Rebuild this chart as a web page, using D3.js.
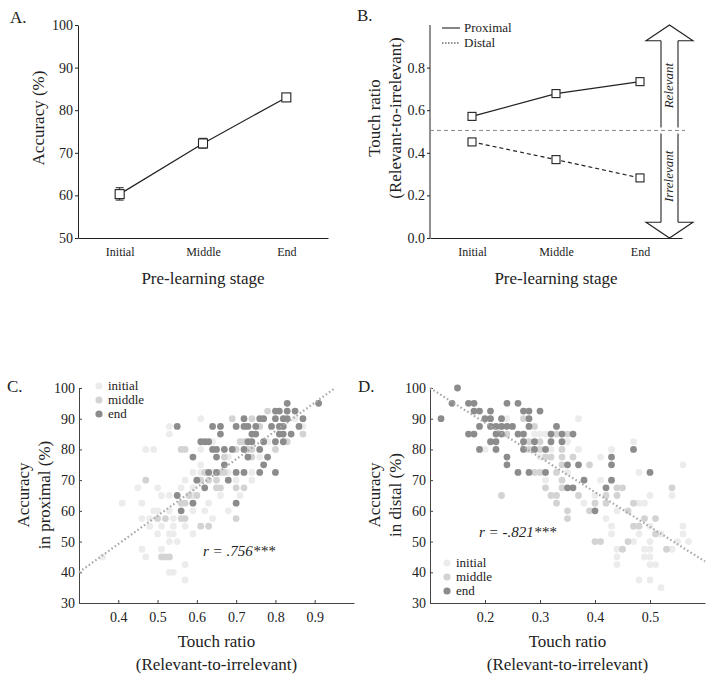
<!DOCTYPE html>
<html><head><meta charset="utf-8">
<script src="https://cdn.jsdelivr.net/npm/d3@7"></script>
<style>
body{margin:0;background:#fff}
svg{display:block}
text{font-family:'Liberation Serif','DejaVu Serif',serif;fill:#222}
</style>
</head><body>
<svg id="c" width="714" height="684"></svg>
<script>
// ---------- DATA ----------
const stages = ["Initial", "Middle", "End"];
const accuracyMean = [60.3, 72.2, 83.0];
const accuracyLow = [58.9, 71.1, 82.7];
const accuracyHigh = [61.8, 73.4, 83.3];
const accuracyTicks = [50, 60, 70, 80, 90, 100];

const proximalRatio = [0.571, 0.678, 0.734];
const distalRatio = [0.451, 0.368, 0.282];
const chanceRatio = 0.505;
const ratioTicks = [0.0, 0.2, 0.4, 0.6, 0.8];
const legendB = ["Proximal", "Distal"];

const scatterYTicks = [30, 40, 50, 60, 70, 80, 90, 100];
const proxXTicks = [0.4, 0.5, 0.6, 0.7, 0.8, 0.9];
const distXTicks = [0.2, 0.3, 0.4, 0.5];
const groupNames = ["initial", "middle", "end"];

const proxInitial = [[0.61,90],[0.85,90],[0.53,87.5],[0.87,87.5],[0.53,85],[0.64,82.5],[0.78,82.5],[0.47,80],[0.49,80],[0.61,80],[0.68,77.5],[0.76,77.5],[0.61,75],[0.59,72.5],[0.61,72.5],[0.64,72.5],[0.68,72.5],[0.74,72.5],[0.57,70],[0.70,70],[0.74,70],[0.45,67.5],[0.50,67.5],[0.56,67.5],[0.59,67.5],[0.51,65],[0.53,65],[0.59,65],[0.66,65],[0.71,65],[0.41,62.5],[0.46,62.5],[0.63,62.5],[0.49,60],[0.50,60],[0.53,60],[0.59,60],[0.62,60],[0.68,60],[0.46,57.5],[0.48,57.5],[0.54,57.5],[0.64,57.5],[0.48,55],[0.51,55],[0.54,55],[0.57,55],[0.50,52.5],[0.53,52.5],[0.54,52.5],[0.59,52.5],[0.53,50],[0.55,50],[0.46,47.5],[0.51,47.5],[0.47,45],[0.36,45],[0.57,42.5],[0.53,40],[0.54,40],[0.57,37.5]];
const proxMiddle = [[0.78,92.5],[0.69,90],[0.74,90],[0.76,87.5],[0.87,85],[0.71,82.5],[0.72,82.5],[0.83,82.5],[0.56,80],[0.57,80],[0.70,80],[0.73,80],[0.74,80],[0.80,80],[0.67,77.5],[0.74,77.5],[0.62,72.5],[0.66,72.5],[0.67,72.5],[0.47,70],[0.61,70],[0.63,70],[0.65,70],[0.65,67.5],[0.66,67.5],[0.70,67.5],[0.72,67.5],[0.58,65],[0.60,65],[0.56,62.5],[0.57,62.5],[0.50,57.5],[0.52,57.5],[0.56,57.5],[0.57,57.5],[0.70,57.5],[0.61,55],[0.63,55],[0.51,45],[0.52,45],[0.53,45]];
const proxEnd = [[0.83,95],[0.91,95],[0.80,92.5],[0.81,92.5],[0.83,92.5],[0.85,92.5],[0.72,90],[0.76,90],[0.77,90],[0.80,90],[0.82,90],[0.83,90],[0.87,90],[0.55,87.5],[0.64,87.5],[0.66,87.5],[0.70,87.5],[0.72,87.5],[0.73,87.5],[0.75,87.5],[0.79,87.5],[0.81,87.5],[0.82,87.5],[0.86,87.5],[0.66,85],[0.74,85],[0.75,85],[0.81,85],[0.82,85],[0.84,85],[0.61,82.5],[0.62,82.5],[0.63,82.5],[0.73,82.5],[0.74,82.5],[0.77,82.5],[0.80,82.5],[0.82,82.5],[0.64,80],[0.65,80],[0.67,80],[0.69,80],[0.72,80],[0.76,80],[0.59,77.5],[0.65,77.5],[0.73,77.5],[0.78,77.5],[0.67,75],[0.77,75],[0.63,72.5],[0.65,72.5],[0.70,72.5],[0.72,72.5],[0.76,72.5],[0.80,72.5],[0.60,70],[0.68,70],[0.62,67.5],[0.55,65],[0.59,62.5],[0.70,62.5],[0.56,60]];

const distInitial = [[0.24,90],[0.37,90],[0.29,85],[0.30,85],[0.31,85],[0.35,82.5],[0.47,82.5],[0.20,80],[0.32,80],[0.37,80],[0.43,80],[0.30,77.5],[0.41,77.5],[0.56,75],[0.35,72.5],[0.48,72.5],[0.31,70],[0.41,70],[0.40,65],[0.50,65],[0.54,65],[0.38,62.5],[0.48,62.5],[0.49,62.5],[0.44,60],[0.42,57.5],[0.43,55],[0.50,55],[0.56,55],[0.43,52.5],[0.48,52.5],[0.52,52.5],[0.56,52.5],[0.47,50],[0.50,50],[0.55,50],[0.57,50],[0.44,47.5],[0.49,47.5],[0.50,47.5],[0.54,47.5],[0.44,45],[0.49,45],[0.50,45],[0.44,42.5],[0.50,42.5],[0.51,42.5],[0.48,37.5],[0.50,37.5],[0.52,35]];
const distMiddle = [[0.27,90],[0.29,87.5],[0.24,85],[0.33,85],[0.35,85],[0.28,82.5],[0.30,82.5],[0.28,80],[0.30,80],[0.34,80],[0.31,77.5],[0.32,77.5],[0.34,77.5],[0.36,77.5],[0.34,75],[0.39,75],[0.29,72.5],[0.30,72.5],[0.33,72.5],[0.34,70],[0.31,67.5],[0.34,67.5],[0.44,67.5],[0.45,67.5],[0.54,67.5],[0.23,65],[0.32,65],[0.33,65],[0.37,65],[0.42,65],[0.44,65],[0.33,62.5],[0.40,62.5],[0.42,62.5],[0.47,62.5],[0.35,60],[0.39,60],[0.46,60],[0.35,57.5],[0.49,57.5],[0.51,57.5],[0.47,55],[0.48,55],[0.51,52.5],[0.40,50],[0.41,50],[0.46,50],[0.45,47.5],[0.53,47.5]];
const distEnd = [[0.15,100],[0.14,95],[0.17,95],[0.18,95],[0.24,95],[0.26,95],[0.18,92.5],[0.19,92.5],[0.21,92.5],[0.27,92.5],[0.28,92.5],[0.30,92.5],[0.12,90],[0.20,90],[0.21,90],[0.23,90],[0.28,90],[0.19,87.5],[0.21,87.5],[0.22,87.5],[0.23,87.5],[0.24,87.5],[0.25,87.5],[0.28,87.5],[0.33,87.5],[0.17,85],[0.18,85],[0.22,85],[0.23,85],[0.26,85],[0.27,85],[0.32,85],[0.34,85],[0.36,85],[0.21,82.5],[0.22,82.5],[0.27,82.5],[0.29,82.5],[0.32,82.5],[0.34,82.5],[0.19,80],[0.22,80],[0.27,80],[0.29,80],[0.31,80],[0.47,80],[0.24,77.5],[0.43,77.5],[0.24,75],[0.35,75],[0.37,75],[0.43,75],[0.26,72.5],[0.28,72.5],[0.31,72.5],[0.50,72.5],[0.38,70],[0.43,70],[0.35,67.5],[0.36,67.5],[0.42,67.5],[0.40,60]];

const proxFit = [[0.30, 40], [0.952, 100]];
const distFit = [[0.10, 100], [0.60, 43.5]];
const proxR = "r = .756***";
const distR = "r = -.821***";

// ---------- HELPERS ----------
const svg = d3.select("#c");
const FONT = "'Liberation Serif','DejaVu Serif',serif";
const groupColors = ["#ececec", "#d3d3d3", "#8c8c8c"];

function styleAxis(g, color, size) {
  g.attr("font-family", null).attr("font-size", size);
  g.select(".domain").attr("stroke", color).attr("stroke-width", 1);
  g.selectAll(".tick line").attr("stroke", color);
  g.selectAll(".tick text").attr("fill", "#222").style("font-family", FONT);
}
function addText(x, y, str, size, opts = {}) {
  const t = svg.append("text").attr("x", x).attr("y", y).text(str)
    .attr("font-size", size).attr("text-anchor", opts.anchor || "start")
    .style("font-family", FONT);
  if (opts.italic) t.attr("font-style", "italic");
  if (opts.rotate) t.attr("transform", `rotate(-90,${x},${y})`);
  return t;
}
function square(g, x, y, s) {
  g.append("rect").attr("x", x - s / 2).attr("y", y - s / 2).attr("width", s).attr("height", s)
    .attr("fill", "#fff").attr("stroke", "#222").attr("stroke-width", 1.1);
}

// ---------- PANEL A ----------
{
  const x = d3.scalePoint().domain(stages).range([78, 328]).padding(0.5);
  const y = d3.scaleLinear().domain([50, 100]).range([238, 25]);
  const g = svg.append("g");
  g.append("g").attr("transform", "translate(78,0)")
    .call(d3.axisLeft(y).tickValues(accuracyTicks).tickSize(3).tickSizeOuter(0).tickPadding(2))
    .call(a => styleAxis(a, "#222", 14));
  g.append("g").attr("transform", "translate(0,238)")
    .call(d3.axisBottom(x).tickSize(0).tickPadding(9))
    .call(a => styleAxis(a, "#222", 12));
  const line = d3.line().x((d, i) => x(stages[i])).y(d => y(d));
  g.append("path").attr("d", line(accuracyMean)).attr("fill", "none").attr("stroke", "#222").attr("stroke-width", 1.2);
  stages.forEach((s, i) => {
    const cx = x(s);
    g.append("line").attr("x1", cx).attr("x2", cx).attr("y1", y(accuracyLow[i])).attr("y2", y(accuracyHigh[i])).attr("stroke", "#222");
    [accuracyLow[i], accuracyHigh[i]].forEach(v => g.append("line").attr("x1", cx - 4).attr("x2", cx + 4).attr("y1", y(v)).attr("y2", y(v)).attr("stroke", "#222"));
    square(g, cx, y(accuracyMean[i]), 9);
  });
  addText(10, 23, "A.", 17);
  addText(203, 284, "Pre-learning stage", 17, { anchor: "middle" });
  addText(44, 118, "Accuracy (%)", 17, { anchor: "middle", rotate: true });
}

// ---------- PANEL B ----------
{
  const x = d3.scalePoint().domain(stages).range([430, 682]).padding(0.5);
  const y = d3.scaleLinear().domain([0, 1]).range([238, 25]);
  const g = svg.append("g");
  g.append("g").attr("transform", "translate(430,0)")
    .call(d3.axisLeft(y).tickValues(ratioTicks).tickFormat(d3.format(".1f")).tickSize(3).tickSizeOuter(0).tickPadding(2))
    .call(a => styleAxis(a, "#222", 14));
  g.select(".domain").remove();
  g.append("line").attr("x1", 430).attr("x2", 430).attr("y1", y(1)).attr("y2", y(0)).attr("stroke", "#222");
  g.append("g").attr("transform", "translate(0,238)")
    .call(d3.axisBottom(x).tickSize(0).tickPadding(9))
    .call(a => styleAxis(a, "#222", 12));
  const yc = y(chanceRatio);
  g.append("line").attr("x1", 430).attr("x2", 685).attr("y1", yc).attr("y2", yc)
    .attr("stroke", "#888").attr("stroke-dasharray", "4,3");
  const cx = 669.5, sh = 8.5, hw = 23.5, hh = 15.7, gap = 3;
  const top = y(1), bot = y(0);
  const ap = g.append("g").attr("fill", "none").attr("stroke", "#222").attr("stroke-width", 1.1);
  ap.append("path").attr("d", `M${cx - sh},${top + hh} L${cx - hw},${top + hh} L${cx},${top} L${cx + hw},${top + hh} L${cx + sh},${top + hh}`);
  ap.append("path").attr("d", `M${cx - sh},${bot - hh} L${cx - hw},${bot - hh} L${cx},${bot} L${cx + hw},${bot - hh} L${cx + sh},${bot - hh}`);
  [cx - sh, cx + sh].forEach(sx => {
    ap.append("line").attr("x1", sx).attr("x2", sx).attr("y1", top + hh).attr("y2", yc - gap);
    ap.append("line").attr("x1", sx).attr("x2", sx).attr("y1", yc + gap).attr("y2", bot - hh);
  });
  addText(cx + 4, (top + hh + yc) / 2, "Relevant", 13, { anchor: "middle", italic: true, rotate: true });
  addText(cx + 4, (yc + bot - hh) / 2, "Irrelevant", 13, { anchor: "middle", italic: true, rotate: true });
  const line = d3.line().x((d, i) => x(stages[i])).y(d => y(d));
  g.append("path").attr("d", line(proximalRatio)).attr("fill", "none").attr("stroke", "#222").attr("stroke-width", 1.2);
  g.append("path").attr("d", line(distalRatio)).attr("fill", "none").attr("stroke", "#222").attr("stroke-width", 1.2).attr("stroke-dasharray", "4,3");
  stages.forEach((s, i) => { square(g, x(s), y(proximalRatio[i]), 8); square(g, x(s), y(distalRatio[i]), 8); });
  legendB.forEach((name, i) => {
    const ly = 28 + i * 15;
    g.append("line").attr("x1", 442).attr("x2", 460).attr("y1", ly).attr("y2", ly)
      .attr("stroke", "#222").attr("stroke-width", 1.1).attr("stroke-dasharray", i ? "1.5,1.5" : null);
    addText(464, ly + 4, name, 13);
  });
  addText(357, 21, "B.", 17);
  addText(556, 284, "Pre-learning stage", 17, { anchor: "middle" });
  addText(380, 118, "Touch ratio", 17, { anchor: "middle", rotate: true });
  addText(401, 118, "(Relevant-to-irrelevant)", 17, { anchor: "middle", rotate: true });
}

// ---------- SCATTER PANELS ----------
function scatter(opt) {
  const x = d3.scaleLinear().domain(opt.xDomain).range([opt.left, opt.left + 275]);
  const y = d3.scaleLinear().domain([30, 100]).range([603, 388]);
  const g = svg.append("g");
  g.append("g").attr("transform", `translate(${opt.left},0)`)
    .call(d3.axisLeft(y).tickValues(scatterYTicks).tickSize(-3).tickSizeOuter(0).tickPadding(4))
    .call(a => styleAxis(a, "#444", 14));
  g.append("g").attr("transform", "translate(0,603)")
    .call(d3.axisBottom(x).tickValues(opt.xTicks).tickFormat(d3.format(".1f")).tickSize(-3).tickSizeOuter(0).tickPadding(9))
    .call(a => styleAxis(a, "#444", 14));
  opt.groups.forEach((pts, gi) => {
    g.append("g").selectAll("circle").data(pts).join("circle")
      .attr("cx", d => x(d[0])).attr("cy", d => y(d[1])).attr("r", 3.4).attr("fill", groupColors[gi]);
  });
  g.append("line").attr("x1", x(opt.fit[0][0])).attr("y1", y(opt.fit[0][1]))
    .attr("x2", x(opt.fit[1][0])).attr("y2", y(opt.fit[1][1]))
    .attr("stroke", "#aaa").attr("stroke-width", 2.2).attr("stroke-dasharray", "1.6,2.4");
  groupNames.forEach((n, i) => {
    const ly = opt.legendY + i * 14;
    g.append("circle").attr("cx", opt.left + opt.legendDX).attr("cy", ly).attr("r", 3.6).attr("fill", groupColors[i]);
    addText(opt.left + opt.legendDX + 9, ly + 4, n, 13);
  });
  const cxm = opt.left + 137.5;
  addText(cxm, 647, "Touch ratio", 17, { anchor: "middle" });
  addText(cxm, 670, "(Relevant-to-irrelevant)", 17, { anchor: "middle" });
  addText(opt.left - 50, 495, "Accuracy", 17, { anchor: "middle", rotate: true });
  addText(opt.left - 29, 495, opt.ylabel2, 17, { anchor: "middle", rotate: true });
  addText(opt.rx, opt.ry, opt.r, 15, { italic: true });
  addText(opt.left - 72, 392, opt.letter, 17);
}
scatter({ left: 79, xDomain: [0.3, 1.0], xTicks: proxXTicks, groups: [proxInitial, proxMiddle, proxEnd],
  fit: proxFit, legendY: 386, legendDX: 20, ylabel2: "in proximal (%)", r: proxR, rx: 203, ry: 556, letter: "C." });
scatter({ left: 430, xDomain: [0.1, 0.6], xTicks: distXTicks, groups: [distInitial, distMiddle, distEnd],
  fit: distFit, legendY: 563, legendDX: 17, ylabel2: "in distal (%)", r: distR, rx: 479, ry: 537, letter: "D." });
</script>
</body></html>
